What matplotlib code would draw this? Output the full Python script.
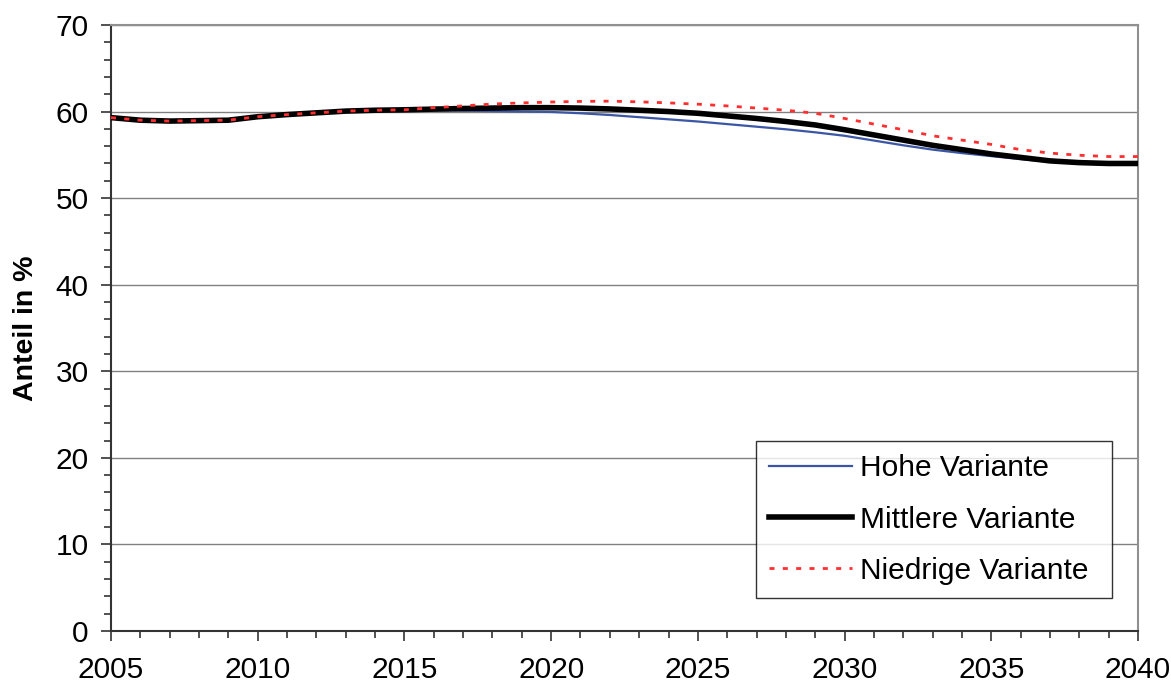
import matplotlib.pyplot as plt
import numpy as np
from matplotlib.ticker import MultipleLocator

plt.rcParams['font.family'] = ['Liberation Sans', 'DejaVu Sans']

years = np.arange(2005, 2041)

common = [59.3, 59.0, 58.9, 58.95, 59.0, 59.4, 59.65, 59.85, 60.05, 60.15, 60.2]

hohe = common + [60.15, 60.1, 60.05, 60.0, 59.95, 59.8, 59.6, 59.35, 59.1, 58.85,
                 58.55, 58.25, 57.95, 57.6, 57.2, 56.65, 56.1, 55.6, 55.2, 54.85,
                 54.5, 54.2, 54.05, 54.0, 54.0]
mittlere = common + [60.28, 60.35, 60.4, 60.45, 60.45, 60.4, 60.3, 60.15, 60.0, 59.8,
                     59.5, 59.2, 58.85, 58.45, 57.9, 57.3, 56.7, 56.1, 55.6, 55.1,
                     54.7, 54.3, 54.1, 54.0, 54.0]
niedrige = common + [60.45, 60.65, 60.87, 61.0, 61.1, 61.17, 61.2, 61.12, 61.0, 60.85,
                     60.65, 60.4, 60.15, 59.8, 59.2, 58.55, 57.9, 57.2, 56.7, 56.2,
                     55.6, 55.2, 54.95, 54.8, 54.8]

labels = ['Hohe Variante', 'Mittlere Variante', 'Niedrige Variante']

fig = plt.figure(figsize=(11.71, 6.84), dpi=100)
ax = fig.add_axes([0.0948, 0.0775, 0.877, 0.886])

ax.plot(years, hohe, color='#3a56a5', lw=1.6, label=labels[0], zorder=3)
ax.plot(years, mittlere, color='black', lw=4, label=labels[1], zorder=4)
ax.plot(years, niedrige, color='#ff2f2f', lw=2, ls=(0, (1.8, 3)), label=labels[2], zorder=5)

ax.set_xlim(2005, 2040)
ax.set_ylim(0, 70)
ax.xaxis.set_major_locator(MultipleLocator(5))
ax.xaxis.set_minor_locator(MultipleLocator(1))
ax.yaxis.set_major_locator(MultipleLocator(10))
ax.yaxis.set_minor_locator(MultipleLocator(2))
ax.tick_params(which='both', direction='out', labelsize=21.5, color='#333333', width=1.2)
ax.tick_params(which='major', length=7)
ax.tick_params(which='minor', length=5)
ax.tick_params(axis='x', pad=11)
ax.tick_params(axis='y', pad=9)

ax.grid(axis='y', which='major', color='#808080', lw=1)
ax.set_axisbelow(True)
for s in ['top', 'right']:
    ax.spines[s].set_color('#909090')
    ax.spines[s].set_linewidth(1.5)
for s in ['left', 'bottom']:
    ax.spines[s].set_color('#333333')
    ax.spines[s].set_linewidth(1.5)

ax.set_ylabel('Anteil in %', fontsize=20.5, fontweight='bold', labelpad=12)

leg = ax.legend(loc='lower left', bbox_to_anchor=(0.628, 0.054, 0.347, 0.25), mode='expand',
                fontsize=21.5, frameon=True, fancybox=False, handlelength=2.75,
                handletextpad=0.3, labelspacing=0.78, borderpad=0.45, borderaxespad=0)
leg.get_frame().set_edgecolor('black')
leg.get_frame().set_linewidth(1.0)

fig.savefig('out.png', dpi=100)
